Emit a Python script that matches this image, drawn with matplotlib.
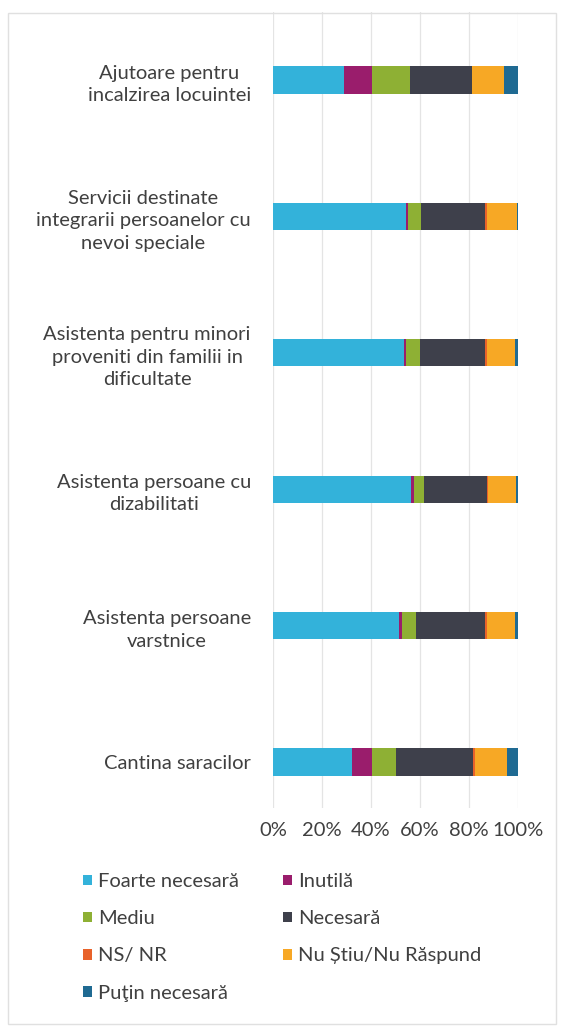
import matplotlib
matplotlib.use("Agg")
import matplotlib.pyplot as plt
from matplotlib.patches import Rectangle, Patch
import numpy as np

plt.rcParams['font.family'] = ['Lato', 'DejaVu Sans']

categories = [
    "Ajutoare pentru\nincalzirea locuintei",
    "Servicii destinate\nintegrarii persoanelor cu\nnevoi speciale",
    "Asistenta pentru minori\nproveniti din familii in\ndificultate",
    "Asistenta persoane cu\ndizabilitati",
    "Asistenta persoane\nvarstnice",
    "Cantina saracilor",
]
series_names = ["Foarte necesară", "Inutilă", "Mediu", "Necesară", "NS/ NR",
                "Nu Știu/Nu Răspund", "Puţin necesară"]
foarte_necesara = [29.1, 54.4, 53.3, 56.4, 51.4, 32.1]
inutila =         [11.3, 0.9, 1.1, 1.0, 1.3, 8.3]
mediu =           [15.7, 5.2, 5.7, 4.1, 5.8, 9.9]
necesara =        [25.2, 26.0, 26.4, 25.7, 28.0, 31.4]
ns_nr =           [0.0, 0.7, 0.7, 0.6, 0.7, 0.7]
nu_stiu =         [13.0, 12.3, 11.6, 11.4, 11.6, 13.0]
putin_necesara =  [5.7, 0.5, 1.2, 0.8, 1.2, 4.6]
xtick_labels = ["0%", "20%", "40%", "60%", "80%", "100%"]

series = [foarte_necesara, inutila, mediu, necesara, ns_nr, nu_stiu, putin_necesara]
colors = ["#33b2da", "#9a1d6c", "#8eb034", "#3e404b", "#e8622a", "#f7a825", "#1f6a92"]

W, H = 568, 1032
fig = plt.figure(figsize=(W / 100, H / 100), dpi=100)
fig.patch.set_facecolor("white")

# chart border
fig.add_artist(Rectangle((8 / W, 1 - 1024 / H), 548 / W, 1011 / H,
                         transform=fig.transFigure, fill=False,
                         edgecolor="#e0e0e0", linewidth=1.0))

left, right = 273 / W, 518 / W
top_px, bot_px = 12, 808
ax = fig.add_axes([left, 1 - bot_px / H, right - left, (bot_px - top_px) / H])

ypos = np.arange(len(categories))
cum = np.zeros(len(categories))
for vals, c, name in zip(series, colors, series_names):
    v = np.array(vals)
    ax.barh(ypos, v, left=cum, height=0.2, color=c, label=name, zorder=3)
    cum += v

spacing = 136.4
ax.set_ylim((bot_px - 80) / spacing, (top_px - 80) / spacing)
ax.set_xlim(0, 100)
ax.set_xticks(np.linspace(0, 100, 6))
ax.set_xticklabels(xtick_labels)
ax.set_yticks(ypos)
ax.set_yticklabels(categories, ha="right", multialignment="center",
                   linespacing=1.4)
ax.tick_params(axis="y", length=0, pad=16, labelsize=14.5, labelcolor="#404040")
ax.tick_params(axis="x", length=0, pad=10, labelsize=14.5, labelcolor="#404040")
ax.xaxis.grid(True, color="#e4e4e4", linewidth=0.9, zorder=0)
ax.set_axisbelow(True)
for s in ax.spines.values():
    s.set_visible(False)

handles = [Patch(facecolor=c, edgecolor="none") for c in colors]
order = [0, 2, 4, 6, 1, 3, 5]
fig.legend([handles[i] for i in order], [series_names[i] for i in order],
           ncol=2, loc="upper left", bbox_to_anchor=(69 / W, 1 - 859 / H),
           frameon=False, fontsize=14.5, handlelength=0.45, handleheight=0.45,
           handletextpad=0.3, labelspacing=1.0, columnspacing=2.2,
           borderpad=0.2, labelcolor="#404040")

fig.savefig("out.png", dpi=100, facecolor="white")
